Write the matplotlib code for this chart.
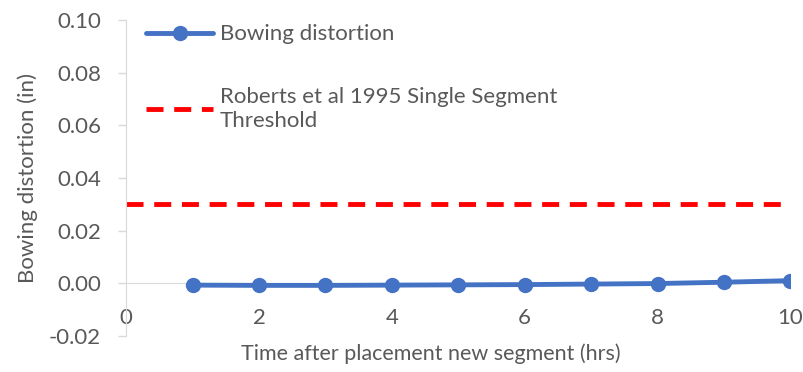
import numpy as np
import matplotlib.pyplot as plt

# hours after placement of the new segment
hours = [1, 2, 3, 4, 5, 6, 7, 8, 9, 10]
bowing = [-0.0007, -0.0008, -0.0008, -0.0007, -0.0006, -0.0005, -0.0003, -0.0001, 0.0004, 0.0010]

threshold_x = [0, 10]
threshold_y = [0.03, 0.03]

plt.rcParams['font.family'] = ['Lato', 'DejaVu Sans']
txt = '#595959'
axis_col = '#d9d9d9'

fig = plt.figure(figsize=(8.04, 3.72), dpi=100)
ax = fig.add_axes([0.157, 0.097, 0.826, 0.849])

ax.plot(hours, bowing, color='#4472c4', lw=3.5, marker='o', markersize=10,
        label='Bowing distortion', solid_capstyle='round')
ax.plot(threshold_x, threshold_y, color='#ff0000', lw=3.5, linestyle=(0, (3.5, 2.2)),
        label='Roberts et al 1995 Single Segment\nThreshold')

ax.set_xlim(0, 10)
ax.set_ylim(-0.02, 0.10)
ax.set_xticks(np.arange(0, 11, 2))
ax.set_yticks(np.arange(-0.02, 0.101, 0.02))
ax.set_yticklabels([f'{v:.2f}' for v in np.arange(-0.02, 0.101, 0.02)])

for s in ['top', 'right']:
    ax.spines[s].set_visible(False)
ax.spines['bottom'].set_position(('data', 0))
ax.spines['bottom'].set_color(axis_col)
ax.spines['left'].set_color(axis_col)
ax.spines['bottom'].set_zorder(0)

ax.tick_params(axis='y', colors=axis_col, labelcolor=txt, labelsize=16, length=6, width=1, pad=12)
ax.tick_params(axis='x', colors=axis_col, labelcolor=txt, labelsize=16, length=0, pad=18)

ax.set_xlabel('Time after placement new segment (hrs)', color=txt, fontsize=15.5)
ax.xaxis.set_label_coords(0.458, -0.025)
ax.set_ylabel('Bowing distortion (in)', color=txt, fontsize=16, labelpad=8)

leg = ax.legend(loc='upper left', frameon=False, fontsize=16, handlelength=3.0,
                handletextpad=0.3, labelspacing=1.9, labelcolor=txt,
                bbox_to_anchor=(0.0, 1.05))
for t in leg.get_texts():
    t.set_linespacing(1.3)

fig.savefig('out.png', dpi=100)
